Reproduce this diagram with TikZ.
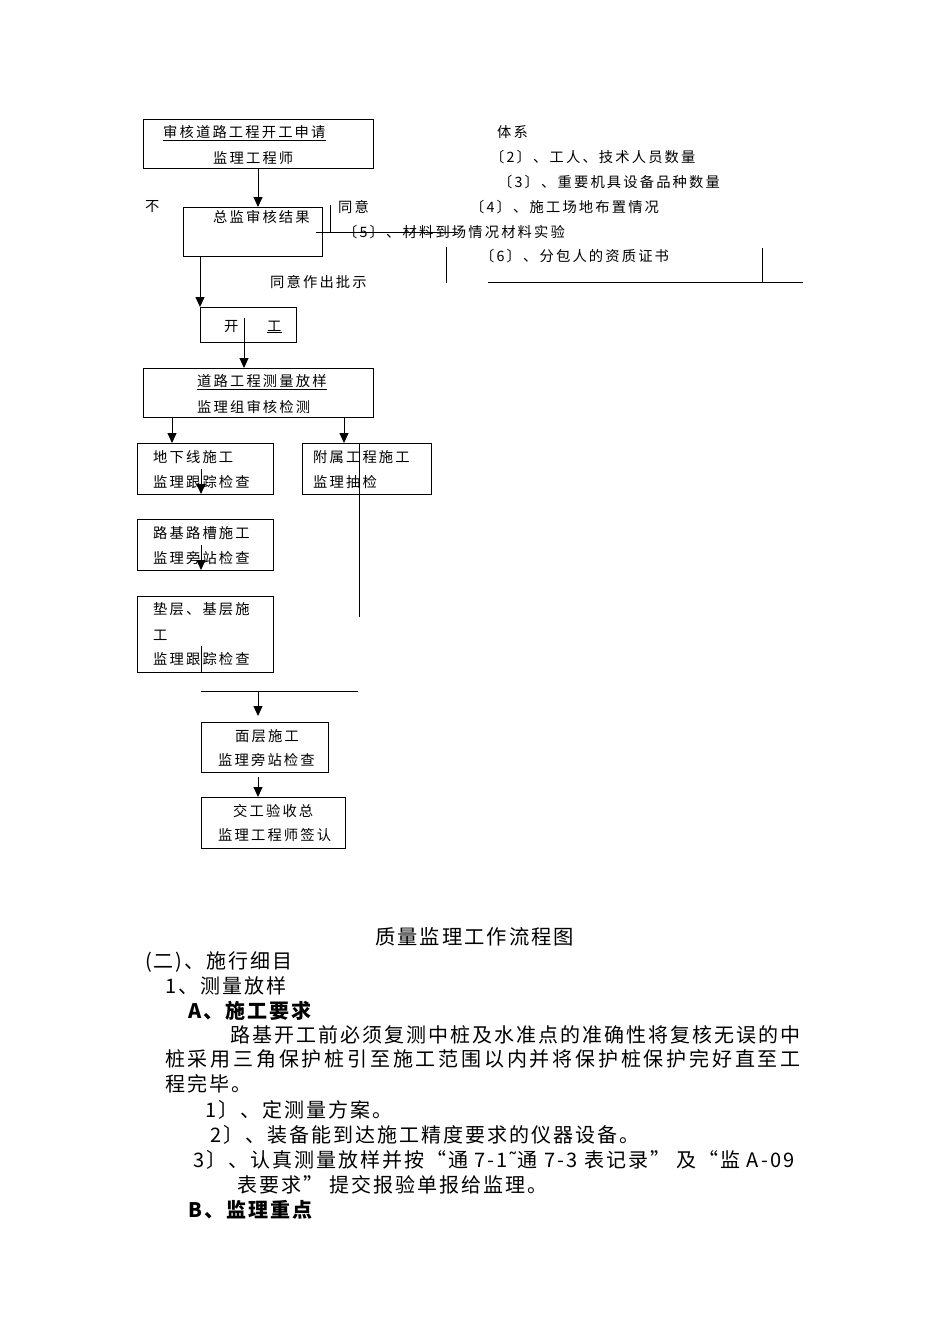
\documentclass[tikz,border=0pt]{standalone}
\usepackage{fontspec}
\usepackage{tikz}
\usetikzlibrary{arrows.meta}
\newfontfamily\boxfont{Noto Sans CJK SC}[LetterSpace=15]
\newfontfamily\bodyfont{Noto Sans CJK SC}[LetterSpace=10]
\newfontfamily\bodywide{Noto Sans CJK SC}[LetterSpace=14]
\newfontfamily\symfont{DejaVu Sans}
\tikzstyle{box}=[draw,line width=1pt,inner sep=0pt,outer sep=0pt]
\tikzstyle{note}=[anchor=west,inner sep=0pt,font=\boxfont\fontsize{14.3}{16}\selectfont]
\tikzstyle{body}=[anchor=west,inner sep=0pt,font=\bodyfont\fontsize{20}{24}\selectfont]
\tikzstyle{edge} = [draw,line width=1pt,-]
\tikzstyle{dedge} = [draw,line width=1pt,-{Triangle[length=10pt,width=9pt]}]

\begin{document}
\begin{tikzpicture}[x=1pt,y=-1pt]
                    \useasboundingbox (0,0) rectangle (950,1344);

                    % flow boxes
                    \node[box,minimum width=230,minimum height=49] (apply) at (258,143.5) {};
                    \node[box,minimum width=139,minimum height=49] (review) at (252.5,231.5) {};
                    \node[box,minimum width=96,minimum height=35] (start) at (248,324.5) {};
                    \node[box,minimum width=230,minimum height=49] (survey) at (258,392.5) {};
                    \node[box,minimum width=136,minimum height=51] (pipe) at (205,468.5) {};
                    \node[box,minimum width=129,minimum height=51] (attach) at (366.5,468.5) {};
                    \node[box,minimum width=136,minimum height=51] (subgrade) at (205,544.5) {};
                    \node[box,minimum width=136,minimum height=76] (base) at (205,634) {};
                    \node[box,minimum width=127,minimum height=50] (surface) at (264.5,747) {};
                    \node[box,minimum width=144,minimum height=51] (handover) at (273,822.5) {};

                    \node[note] (applyA) at (163,133) {\underline{审核道路工程开工申请}};
                    \node[note] (applyB) at (213,158) {监理工程师};
                    \node[note] (reviewA) at (213,217) {总监审核结果};
                    \node[note] (no) at (145,207) {不};
                    \node[note] (agree) at (338,207) {同意};
                    \node[note] (approve) at (270,282) {同意作出批示};
                    \node[note] (startA) at (224,327) {开};
                    \node[note] (startB) at (267,327) {\underline{工}};
                    \node[note] (surveyA) at (197,382) {\underline{道路工程测量放样}};
                    \node[note] (surveyB) at (197,407) {监理组审核检测};
                    \node[note] (pipeA) at (153,457) {地下线施工};
                    \node[note] (pipeB) at (153,482) {监理跟踪检查};
                    \node[note] (attachA) at (313,457) {附属工程施工};
                    \node[note] (attachB) at (313,482) {监理抽检};
                    \node[note] (subgradeA) at (153,533) {路基路槽施工};
                    \node[note] (subgradeB) at (153,558) {监理旁站检查};
                    \node[note] (baseA) at (153,609) {垫层、基层施};
                    \node[note] (baseB) at (153,635) {工};
                    \node[note] (baseC) at (153,659) {监理跟踪检查};
                    \node[note] (surfaceA) at (235,736) {面层施工};
                    \node[note] (surfaceB) at (218,760) {监理旁站检查};
                    \node[note] (handoverA) at (233,811) {交工验收总};
                    \node[note] (handoverB) at (218,835) {监理工程师签认};

                    % items on the right
                    \node[note] (system) at (497,132) {体系};
                    \node[note] (item2) at (490,157) {〔2〕、工人、技术人员数量};
                    \node[note] (item3) at (498,182) {〔3〕、重要机具设备品种数量};
                    \node[note] (item4) at (470,207) {〔4〕、施工场地布置情况};
                    \node[note] (item5) at (343,232) {〔5〕、材料到场情况材料实验};
                    \node[note] (item6) at (480,256) {〔6〕、分包人的资质证书};

                    \coordinate (lcol) at (172,0);
                    \coordinate (mcol) at (201,0);
                    \coordinate (ccol) at (258,0);
                    \coordinate (rcol) at (344,0);
                    \coordinate (startmid) at (244,318);
                    \coordinate (attachend) at (359,617);
                    \coordinate (joinl) at (201,691);
                    \coordinate (joinr) at (358,691);
                    \coordinate (agreetop) at (330,205);
                    \coordinate (agreebot) at (330,232);
                    \coordinate (strikel) at (316,232);
                    \coordinate (striker) at (458,232);
                    \coordinate (midtop) at (446,247);
                    \coordinate (midbot) at (446,283);
                    \coordinate (righttop) at (762,248);
                    \coordinate (rightbot) at (762,283);
                    \coordinate (rulel) at (488,282);
                    \coordinate (ruler) at (803,282);

                    \path[dedge] (apply.south) -- (apply.south |- review.north);
                    \path[dedge] (start.north west |- review.south) -- (start.north west);
                    \path[dedge] (startmid) -- (startmid |- survey.north);
                    \path[dedge] (survey.south -| lcol) -- (pipe.north -| lcol);
                    \path[dedge] (survey.south -| rcol) -- (attach.north -| rcol);
                    \path[dedge] (pipe.center -| mcol) -- (pipe.south -| mcol);
                    \path[dedge] (subgrade.center -| mcol) -- (subgrade.south -| mcol);
                    \path[edge] ([yshift=-12pt]base.center -| mcol) -- (base.south -| mcol);
                    \path[edge] (attach.north -| attachend) -- (attachend);
                    \path[edge] (joinl) -- (joinr);
                    \path[dedge] (joinl -| ccol) -- ([yshift=6pt]surface.north -| ccol);
                    \path[dedge] ([yshift=-5pt]surface.south -| ccol) -- (handover.north -| ccol);

                    \path[edge] (agreetop) -- (agreebot);
                    \path[edge] (strikel) -- (striker);
                    \path[edge] (midtop) -- (midbot);
                    \path[edge] (righttop) -- (rightbot);
                    \path[edge] (rulel) -- (ruler);

                    % text below the chart
                    \node[body,font=\bodyfont\fontsize{20.3}{25}\selectfont] (caption) at (375,937) {质量监理工作流程图};
                    \node[body] (partB) at (145,962) {(二)、施行细目};
                    \node[body] (sec1) at (165,986) {1、测量放样};
                    \node[body,font=\bodyfont\fontsize{20}{24}\selectfont\bfseries] (reqA) at (188,1011) {A、施工要求};
                    \node[body] (para1) at (230,1035) {路基开工前必须复测中桩及水准点的准确性将复核无误的中};
                    \node[body,font=\bodywide\fontsize{20}{24}\selectfont] (para2) at (165,1059) {桩采用三角保护桩引至施工范围以内并将保护桩保护完好直至工};
                    \node[body] (para3) at (165,1084) {程完毕。};
                    \node[body] (step1) at (205,1110) {1〕、定测量方案。};
                    \node[body] (step2) at (210,1135) {2〕、装备能到达施工精度要求的仪器设备。};
                    \node[body] (step3) at (193,1160) {3〕、认真测量放样并按“通 7-1{\symfont˜}通 7-3 表记录” 及“监 A-09};
                    \node[body] (step3b) at (237,1185) {表要求” 提交报验单报给监理。};
                    \node[body,font=\bodyfont\fontsize{20}{24}\selectfont\bfseries] (keyB) at (188,1210) {B、监理重点};
                \end{tikzpicture}
\end{document}
